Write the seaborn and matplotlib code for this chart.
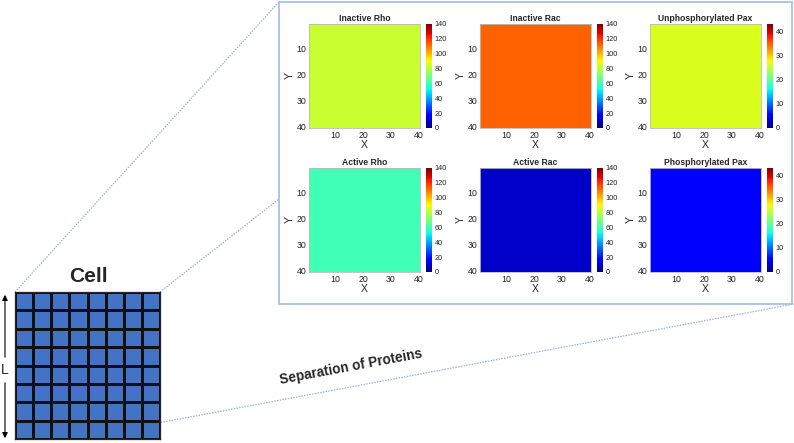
import numpy as np
import pandas as pd
import seaborn as sns
import matplotlib.pyplot as plt
from matplotlib.colors import ListedColormap

# Panel data: each protein field is uniform over the 40x40 cell grid
panel_titles = ["Inactive Rho", "Inactive Rac", "Unphosphorylated Pax",
                "Active Rho", "Active Rac", "Phosphorylated Pax"]
panel_levels = [83, 113, 26.5, 60, 9, 5]
panel_vmax = [140, 140, 43, 140, 140, 43]
cbar_ticks_rho_rac = [0, 20, 40, 60, 80, 100, 120, 140]
cbar_ticks_pax = [0, 10, 20, 30, 40]
grid_n = 40
axis_ticks = [10, 20, 30, 40]
cell_n = 8

W, H = 794, 443
fig = plt.figure(figsize=(W / 100, H / 100), dpi=100)
sns.set_style("white")
plt.rcParams['font.family'] = ['Liberation Sans', 'DejaVu Sans']


def px_axes(x0, y0, x1, y1):
    # pixel box (top-left origin) -> figure axes
    return fig.add_axes([x0 / W, 1 - y1 / H, (x1 - x0) / W, (y1 - y0) / H])


# Background overlay for the schematic parts
bg = px_axes(0, 0, W, H)
bg.set_xlim(0, W)
bg.set_ylim(H, 0)
bg.axis("off")

line_kw = dict(color="#9db3e0", lw=0.9, linestyle=(0, (1.2, 1.0)))
bg.plot([15, 279], [292, 2], **line_kw)
bg.plot([160, 279], [292, 199], **line_kw)
bg.plot([158, 794], [423, 304], **line_kw)
bg.add_patch(plt.Rectangle((279, 2), 513, 302, fill=True, facecolor="white",
                           edgecolor="#a9bfe6", lw=1.3, zorder=2))

ang = np.degrees(np.arctan2(423 - 304, 794 - 158))
bg.text(351, 367, "Separation of Proteins", rotation=ang, ha="center", va="center",
        fontsize=9.8, fontweight="bold", rotation_mode="anchor")

# Cell grid
bg.text(88, 277, "Cell", ha="center", va="center", fontsize=15, fontweight="bold")
bg.annotate("", xy=(5, 292), xytext=(5, 360),
            arrowprops=dict(arrowstyle="-|>", color="black", lw=0.8, mutation_scale=8))
bg.annotate("", xy=(5, 441), xytext=(5, 380),
            arrowprops=dict(arrowstyle="-|>", color="black", lw=0.8, mutation_scale=8))
bg.text(5, 370, "L", ha="center", va="center", fontsize=10)

cax_cell = px_axes(15, 292, 160, 439)
sns.heatmap(np.ones((cell_n, cell_n)), ax=cax_cell, cmap=ListedColormap(["#4473c5"]),
            cbar=False, linewidths=0.9, linecolor="#111111", xticklabels=False,
            yticklabels=False)
for s in cax_cell.spines.values():
    s.set_visible(True)
    s.set_linewidth(0.9)

# Heatmap panels
col_x = [309, 480, 650]
row_y = [24, 168]
pw, ph = 111, 104
for i, (title, level, vmax) in enumerate(zip(panel_titles, panel_levels, panel_vmax)):
    r, c = divmod(i, 3)
    x0, y0 = col_x[c], row_y[r]
    ax = px_axes(x0, y0, x0 + pw, y0 + ph)
    cb = px_axes(x0 + pw + 6, y0, x0 + pw + 12, y0 + ph)
    field = pd.DataFrame(np.full((grid_n, grid_n), level))
    sns.heatmap(field, ax=ax, cbar_ax=cb, cmap="jet", vmin=0, vmax=vmax,
                xticklabels=False, yticklabels=False)
    ax.set_xticks([t - 0.5 for t in axis_ticks])
    ax.set_xticklabels(axis_ticks)
    ax.set_yticks([t - 0.5 for t in axis_ticks])
    ax.set_yticklabels(axis_ticks, rotation=0)
    ax.tick_params(labelsize=6.3, length=0, pad=2, colors="#222222")
    ax.set_xlabel("X", fontsize=7.5, labelpad=0)
    ax.set_ylabel("Y", fontsize=7.5, labelpad=1)
    ax.set_title(title, fontsize=6.2, fontweight="bold", pad=2)
    for s in ax.spines.values():
        s.set_visible(True)
        s.set_color("#bbbbbb")
        s.set_linewidth(0.6)
    cb.set_yticks(cbar_ticks_pax if vmax < 100 else cbar_ticks_rho_rac)
    cb.tick_params(labelsize=5.3, length=0, pad=2, colors="#222222")

fig.savefig("out.png", dpi=100)
